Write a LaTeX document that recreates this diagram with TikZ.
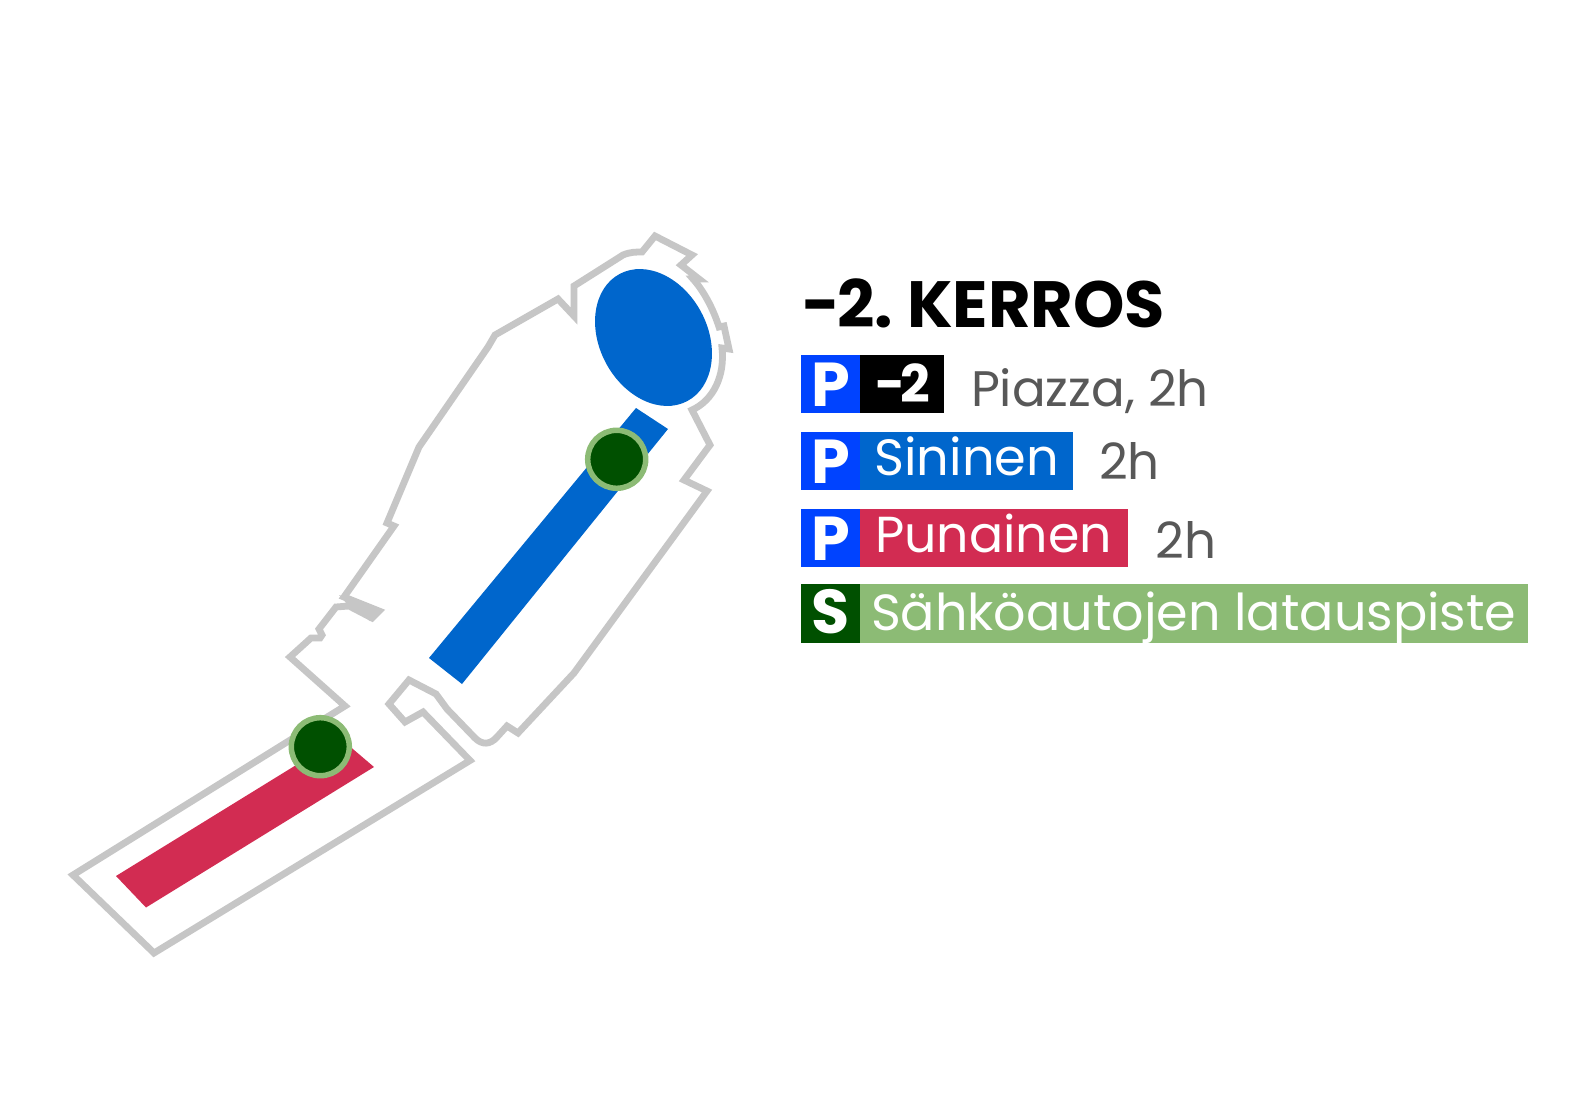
\documentclass[tikz,border=0pt]{standalone}
\usepackage{fontspec}
\setmainfont{Poppins}
\newfontfamily\popb{Poppins}[UprightFont=* Bold]
\definecolor{outl}{HTML}{C6C6C6}
\definecolor{pblue}{HTML}{0043FF}
\definecolor{sblue}{HTML}{0066CC}
\definecolor{pred}{HTML}{D22C52}
\definecolor{sgreen}{HTML}{8CBB75}
\definecolor{dgreen}{HTML}{005000}
\definecolor{gtext}{HTML}{585858}
\tikzset{
  lbl/.style={anchor=base west,inner sep=0pt,outer sep=0pt},
  sign/.style={lbl,text=white},
  charger/.style={circle,draw=sgreen,fill=dgreen,line width=5.5pt,minimum size=58pt,inner sep=0pt},
}
\newcommand{\fsz}[1]{\fontsize{#1pt}{#1pt}\selectfont}
\begin{document}
\begin{tikzpicture}[x=1pt,y=-1pt]
\useasboundingbox (0,0) rectangle (1575,1102);
\fill[white] (0,0) rectangle (1575,1102);
% outline
\fill[outl] (347,604) -- (370,621) -- (381,610) -- (339,595) -- cycle;
\draw[outl,line width=6.8pt,line join=miter,miter limit=8]
 (73,875) -- (345,706) -- (290,657) -- (311,638) -- (320,638) -- (322,635) -- (319,629)
 -- (336,607) -- (349,606) -- (372,618) -- (379,611) -- (344,597) -- (394,526) -- (387,523)
 -- (419,447) -- (488,347) -- (495,335) -- (558,299) -- (574,316) -- (574,286) -- (623,255)
 .. controls (630,252) and (636,252) .. (642,252) -- (655,236) -- (692,255) -- (681,265) -- (699,279) -- (693,279)
 .. controls (703,290) and (713,308) .. (719,327) -- (724,326) -- (729,349) -- (722,348)
 .. controls (725,375) and (714,400) .. (692,410) -- (710,445) -- (684,480) -- (707,491)
 -- (574,673) -- (518,733) -- (507,726) -- (497,737)
 .. controls (490,745) and (482,745) .. (475,738)
 -- (447,709) -- (436,694) -- (409,680) -- (389,704) -- (405,722) -- (423,712) -- (470,760.5)
 -- (154,953) -- cycle;
% parking zones
\fill[sblue,shift={(653.5,337.5)},rotate=-62] (0,0) ellipse [x radius=72,y radius=54];
\fill[sblue] (636,408) -- (668,429) -- (462,684) -- (429,658) -- cycle;
\fill[pred] (116,876) -- (146,907.5) -- (374,767) -- (340,738) -- cycle;
\node[charger] (c1) at (616.7,459.3) {};
\node[charger] (c2) at (320.3,746.7) {};
% legend
\node[lbl] (title) at (802,327.5) {\popb\fsz{65.4}−2.\hspace{-4.5pt} KERROS};
\fill[pblue] (801,355) rectangle (860,413);
\fill[black] (860,355) rectangle (944,413);
\node[sign] (p1) at (811,406) {\popb\fsz{62}P};
\node[sign] (m2) at (875,402.7) {\popb\fsz{52}-\hspace{-5pt}2};
\node[lbl,text=gtext] (piazza) at (971,406.5) {\fsz{49.9}Piazza, 2h};
\fill[sblue] (860,432) rectangle (1073,490);
\fill[pblue] (801,432) rectangle (860,490);
\node[sign] (p2) at (811,483) {\popb\fsz{62}P};
\node[sign] (sin) at (874.5,475.5) {\fsz{51}Sininen};
\node[lbl,text=gtext] (h2) at (1099,479) {\fsz{50}2h};
\fill[pred] (860,508.5) rectangle (1128,567);
\fill[pblue] (801,508.5) rectangle (860,567);
\node[sign] (p3) at (811,560) {\popb\fsz{62}P};
\node[sign] (pun) at (875,552) {\fsz{50.6}Punainen};
\node[lbl,text=gtext] (h3) at (1155.5,558) {\fsz{50}2h};
\fill[sgreen] (860,584) rectangle (1528,643);
\fill[dgreen] (801,584) rectangle (860,643);
\node[sign] (s) at (811,633) {\popb\fsz{62}S};
\node[sign] (sah) at (871,630) {\fsz{50.8}Sähköautojen latauspiste};
\end{tikzpicture}
\end{document}
